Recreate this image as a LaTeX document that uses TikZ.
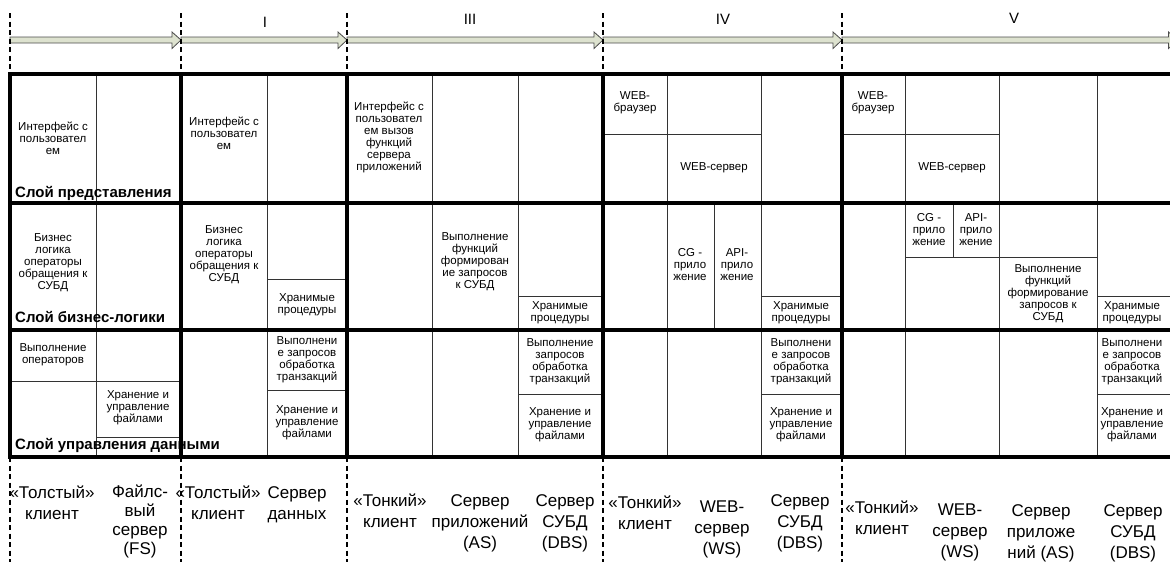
\documentclass[tikz,border=0pt]{standalone}
\usepackage{fontspec}
\setmainfont{Liberation Sans}
\definecolor{arrowfill}{HTML}{DDE2CF}
\begin{document}
\begin{tikzpicture}[x=1pt,y=-1pt,
  thickln/.style={line width=3.5pt, line cap=rect},
  thinln/.style={line width=1pt, draw=black!80},
  dashln/.style={line width=1.6pt, dash pattern=on 5pt off 3.5pt},
  cell/.style={font=\fontsize{11.5}{12}\selectfont, align=center, inner sep=0pt},
  layer/.style={font=\bfseries\fontsize{15}{16}\selectfont, anchor=base west, inner sep=0pt},
  lbl/.style={font=\fontsize{17}{21}\selectfont, align=center, inner sep=0pt, anchor=north},
  roman/.style={font=\fontsize{15}{16}\selectfont, inner sep=0pt},
  arr/.style={draw=black!70, fill=arrowfill, line width=0.8pt}]
\useasboundingbox (0,0) rectangle (1170,562);
\clip (0,0) rectangle (1170,562);

% timeline arrows
\draw[arr] (10,37) -- (172,37) -- (172,32) -- (181,40) -- (172,48.5) -- (172,43) -- (10,43) -- cycle;
\draw[arr] (181,37) -- (338,37) -- (338,32) -- (347,40) -- (338,48.5) -- (338,43) -- (181,43) -- cycle;
\draw[arr] (347,37) -- (594,37) -- (594,32) -- (603,40) -- (594,48.5) -- (594,43) -- (347,43) -- cycle;
\draw[arr] (603,37) -- (833,37) -- (833,32) -- (842,40) -- (833,48.5) -- (833,43) -- (603,43) -- cycle;
\draw[arr] (842,37) -- (1168.5,37) -- (1168.5,32) -- (1177.5,40) -- (1168.5,48.5) -- (1168.5,43) -- (842,43) -- cycle;

% dashed phase boundaries
\foreach \xx in {10,181,347,603,842} {
  \draw[dashln] (\xx,13) -- (\xx,74);
  \draw[dashln] (\xx,457) -- (\xx,562);
}

% roman numerals
\node[roman] (r1) at (265,22) {I};
\node[roman] (r3) at (470,19) {III};
\node[roman] (r4) at (723,19) {IV};
\node[roman] (r5) at (1014,18) {V};

% thin grid lines
\draw[thinln] (96,74) -- (96,457);
\draw[thinln] (10,381) -- (181,381);
\draw[thinln] (96,437) -- (181,437);
\draw[thinln] (267,74) -- (267,457);
\draw[thinln] (267,279) -- (347,279);
\draw[thinln] (267,390) -- (347,390);
\draw[thinln] (432,74) -- (432,457);
\draw[thinln] (518,74) -- (518,457);
\draw[thinln] (518,296) -- (603,296);
\draw[thinln] (518,394) -- (603,394);
\draw[thinln] (667,74) -- (667,457);
\draw[thinln] (761,74) -- (761,457);
\draw[thinln] (603,134) -- (761,134);
\draw[thinln] (714,203) -- (714,330);
\draw[thinln] (761,296) -- (842,296);
\draw[thinln] (761,394) -- (842,394);
\draw[thinln] (905,74) -- (905,457);
\draw[thinln] (999,74) -- (999,457);
\draw[thinln] (1097,74) -- (1097,457);
\draw[thinln] (842,134) -- (999,134);
\draw[thinln] (953,203) -- (953,257);
\draw[thinln] (905,257) -- (1097,257);
\draw[thinln] (1097,296) -- (1170,296);
\draw[thinln] (1097,394) -- (1170,394);

% thick table lines
\foreach \yy in {74,203,330,457} { \draw[thickln] (10,\yy) -- (1172,\yy); }
\foreach \xx in {10,181,347,603,842} { \draw[thickln] (\xx,74) -- (\xx,457); }

% cell texts
\node[cell] (c11) at (53,138) {Интерфейс с\\пользовател\\ем};
\node[cell] (c12) at (53,263) {Бизнес\\логика\\операторы\\обращения к\\СУБД};
\node[cell] (c13) at (53,355) {Выполнение\\операторов};
\node[cell] (c14) at (138,408) {Хранение и\\управление\\файлами};
\node[cell] (c21) at (224,133) {Интерфейс с\\пользовател\\ем};
\node[cell] (c22) at (224,255) {Бизнес\\логика\\операторы\\обращения к\\СУБД};
\node[cell] (c23) at (307,305) {Хранимые\\процедуры};
\node[cell] (c24) at (307,360) {Выполнени\\е запросов\\обработка\\транзакций};
\node[cell] (c25) at (307,423) {Хранение и\\управление\\файлами};
\node[cell] (c31) at (389,137) {Интерфейс с\\пользовател\\ем  вызов\\функций\\сервера\\приложений};
\node[cell] (c32) at (475,262) {Выполнение\\функций\\формирован\\ие запросов\\к СУБД};
\node[cell] (c33) at (560,313) {Хранимые\\процедуры};
\node[cell] (c34) at (560,362) {Выполнение\\запросов\\обработка\\транзакций};
\node[cell] (c35) at (560,425) {Хранение и\\управление\\файлами};
\node[cell] (c41) at (635,103) {WEB-\\браузер};
\node[cell] (c42) at (714,168) {WEB-сервер};
\node[cell] (c43) at (690,265) {CG -\\прило\\жение};
\node[cell] (c44) at (737,265) {API-\\прило\\жение};
\node[cell] (c45) at (801,313) {Хранимые\\процедуры};
\node[cell] (c46) at (801,362) {Выполнени\\е запросов\\обработка\\транзакций};
\node[cell] (c47) at (801,425) {Хранение и\\управление\\файлами};
\node[cell] (c51) at (873,103) {WEB-\\браузер};
\node[cell] (c52) at (952,168) {WEB-сервер};
\node[cell] (c53) at (929,230) {CG -\\прило\\жение};
\node[cell] (c54) at (976,230) {API-\\прило\\жение};
\node[cell] (c55) at (1048,294) {Выполнение\\функций\\формирование\\запросов к\\СУБД};
\node[cell] (c56) at (1132,313) {Хранимые\\процедуры};
\node[cell] (c57) at (1132,362) {Выполнени\\е запросов\\обработка\\транзакций};
\node[cell] (c58) at (1132,425) {Хранение и\\управление\\файлами};

% layer labels
\node[layer] (l1) at (15,197) {Слой представления};
\node[layer] (l2) at (15,322) {Слой бизнес-логики};
\node[layer] (l3) at (15,449) {Слой управления данными};

% bottom labels
\node[lbl] (b1) at (52,486) {«Толстый»\\клиент};
\node[lbl, font=\fontsize{17}{19}\selectfont] (b2) at (140,485) {Файлс-\\вый\\сервер\\(FS)};
\node[lbl] (b3) at (218,486) {«Толстый»\\клиент};
\node[lbl] (b4) at (297,486) {Сервер\\данных};
\node[lbl] (b5) at (390,494) {«Тонкий»\\клиент};
\node[lbl] (b6) at (480,494) {Сервер\\приложений\\(AS)};
\node[lbl] (b7) at (565,494) {Сервер\\СУБД\\(DBS)};
\node[lbl] (b8) at (645,496) {«Тонкий»\\клиент};
\node[lbl] (b9) at (722,501) {WEB-\\сервер\\(WS)};
\node[lbl] (b10) at (800,494) {Сервер\\СУБД\\(DBS)};
\node[lbl] (b11) at (882,501) {«Тонкий»\\клиент};
\node[lbl] (b12) at (960,504) {WEB-\\сервер\\(WS)};
\node[lbl] (b13) at (1041,504) {Сервер\\приложе\\ний (AS)};
\node[lbl] (b14) at (1133,504) {Сервер\\СУБД\\(DBS)};
\end{tikzpicture}
\end{document}
